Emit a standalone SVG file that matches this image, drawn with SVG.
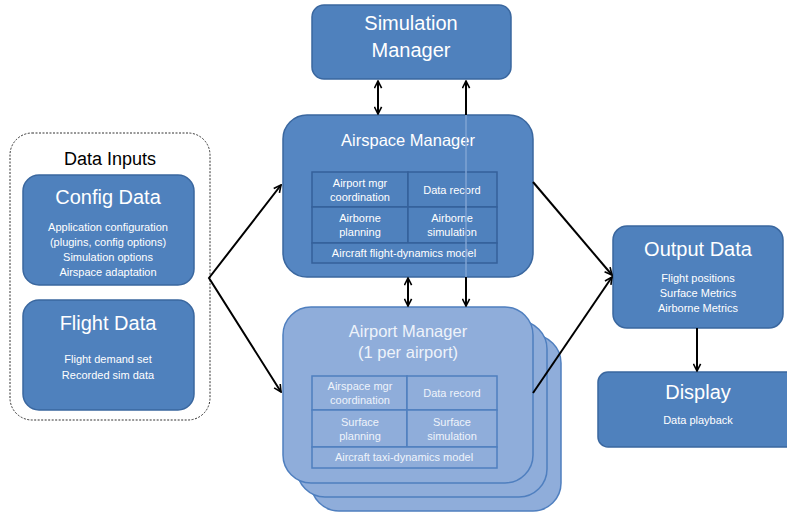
<svg xmlns="http://www.w3.org/2000/svg" width="787" height="514" viewBox="0 0 787 514">
<defs>
<marker id="arr" viewBox="0 0 10 10" refX="9" refY="5" markerWidth="9" markerHeight="9" orient="auto-start-reverse" markerUnits="userSpaceOnUse">
<path d="M1,1 L9,5 L1,9" fill="none" stroke="#000" stroke-width="1.8"/>
</marker>
<style>
text{font-family:"Liberation Sans","Open Sans",Arial,sans-serif;fill:#fff;text-anchor:middle}
.dark{fill:#4f81bd;stroke:#3a679f;stroke-width:1.5}
.mid{fill:#5586c2;stroke:#3a679f;stroke-width:1.5}
.light{fill:#8fadda;stroke:#4f7fbf;stroke-width:1.5}
.cell{fill:#4f81bd;stroke:#35609a;stroke-width:1.5}
.lcell{fill:#8fadda;stroke:#4f7fbf;stroke-width:1.5}
.t1{font-size:20px}
.t2{font-size:16.5px}
.s{font-size:11px}
.lt{fill:#eef3fa}
.conn{stroke:#000;stroke-width:2;fill:none}
</style>
</defs>
<g id="data-inputs">
<rect x="10" y="133" width="200" height="287" rx="22" fill="#fff" stroke="#333" stroke-width="1" stroke-dasharray="2,1.5"/>
<text x="110" y="165" style="fill:#000;font-size:18px">Data Inputs</text>
</g>
<g id="config-data">
<rect class="dark" x="23" y="175" width="171" height="110" rx="16"/>
<text class="t1" x="108" y="204">Config Data</text>
<text class="s" x="108" y="231">Application configuration</text>
<text class="s" x="108" y="246">(plugins, config options)</text>
<text class="s" x="108" y="261">Simulation options</text>
<text class="s" x="108" y="276">Airspace adaptation</text>
</g>
<g id="flight-data">
<rect class="dark" x="23" y="300" width="171" height="110" rx="16"/>
<text class="t1" x="108" y="330">Flight Data</text>
<text class="s" x="108" y="363">Flight demand set</text>
<text class="s" x="108" y="379">Recorded sim data</text>
</g>
<g id="simulation-manager">
<rect class="dark" x="312" y="5" width="199" height="74" rx="12"/>
<text class="t1" x="411" y="30">Simulation</text>
<text class="t1" x="411" y="57">Manager</text>
</g>
<g id="airport-manager">
<rect class="light" x="311" y="335" width="250" height="176" rx="28"/>
<rect class="light" x="297" y="321" width="250" height="176" rx="28"/>
<rect class="light" x="283" y="307" width="250" height="176" rx="28"/>
<text class="t2 lt" x="408" y="337">Airport Manager</text>
<text class="t2 lt" x="408" y="358">(1 per airport)</text>
<rect class="lcell" x="312" y="376" width="95" height="34"/>
<rect class="lcell" x="407" y="376" width="90" height="34"/>
<rect class="lcell" x="312" y="410" width="95" height="37"/>
<rect class="lcell" x="407" y="410" width="90" height="37"/>
<rect class="lcell" x="312" y="447" width="185" height="21"/>
<text class="s lt" x="360" y="390">Airspace mgr</text>
<text class="s lt" x="360" y="404">coordination</text>
<text class="s lt" x="452" y="397">Data record</text>
<text class="s lt" x="360" y="426">Surface</text>
<text class="s lt" x="360" y="440">planning</text>
<text class="s lt" x="452" y="426">Surface</text>
<text class="s lt" x="452" y="440">simulation</text>
<text class="s lt" x="404" y="461">Aircraft taxi-dynamics model</text>
</g>
<g id="airspace-manager">
<rect class="mid" x="283" y="115" width="250" height="162" rx="24"/>
<text class="t2" x="408" y="146">Airspace Manager</text>
<rect class="cell" x="312" y="172" width="96" height="35"/>
<rect class="cell" x="408" y="172" width="89" height="35"/>
<rect class="cell" x="312" y="207" width="96" height="36"/>
<rect class="cell" x="408" y="207" width="89" height="36"/>
<rect class="cell" x="312" y="243" width="185" height="20"/>
<text class="s" x="360" y="187">Airport mgr</text>
<text class="s" x="360" y="201">coordination</text>
<text class="s" x="452" y="194">Data record</text>
<text class="s" x="360" y="222">Airborne</text>
<text class="s" x="360" y="236">planning</text>
<text class="s" x="452" y="222">Airborne</text>
<text class="s" x="452" y="236">simulation</text>
<text class="s" x="404" y="257">Aircraft flight-dynamics model</text>
<line x1="466" y1="115" x2="466" y2="277" stroke="#7fa3d3" stroke-width="1.5"/>
</g>
<g id="output-data">
<rect class="dark" x="613" y="226" width="170" height="102" rx="14"/>
<text class="t1" x="698" y="256">Output Data</text>
<text class="s" x="698" y="282">Flight positions</text>
<text class="s" x="698" y="297">Surface Metrics</text>
<text class="s" x="698" y="312">Airborne Metrics</text>
</g>
<g id="display">
<rect class="dark" x="598" y="372" width="200" height="75" rx="10"/>
<text class="t1" x="698" y="399">Display</text>
<text class="s" x="698" y="424">Data playback</text>
</g>
<g id="connectors">
<line class="conn" x1="378" y1="81" x2="378" y2="114" marker-start="url(#arr)" marker-end="url(#arr)"/>
<line class="conn" x1="466" y1="81" x2="466" y2="115" marker-start="url(#arr)"/>
<line class="conn" x1="466" y1="277" x2="466" y2="306" marker-end="url(#arr)"/>
<line class="conn" x1="408" y1="278" x2="408" y2="306" marker-start="url(#arr)" marker-end="url(#arr)"/>
<polyline class="conn" points="281,185 209,278 281,392" marker-start="url(#arr)" marker-end="url(#arr)"/>
<line class="conn" x1="533" y1="182" x2="612" y2="275" marker-end="url(#arr)"/>
<line class="conn" x1="533" y1="393" x2="612" y2="277" marker-end="url(#arr)"/>
<line class="conn" x1="697" y1="328" x2="697" y2="371" marker-end="url(#arr)"/>
</g>
</svg>
